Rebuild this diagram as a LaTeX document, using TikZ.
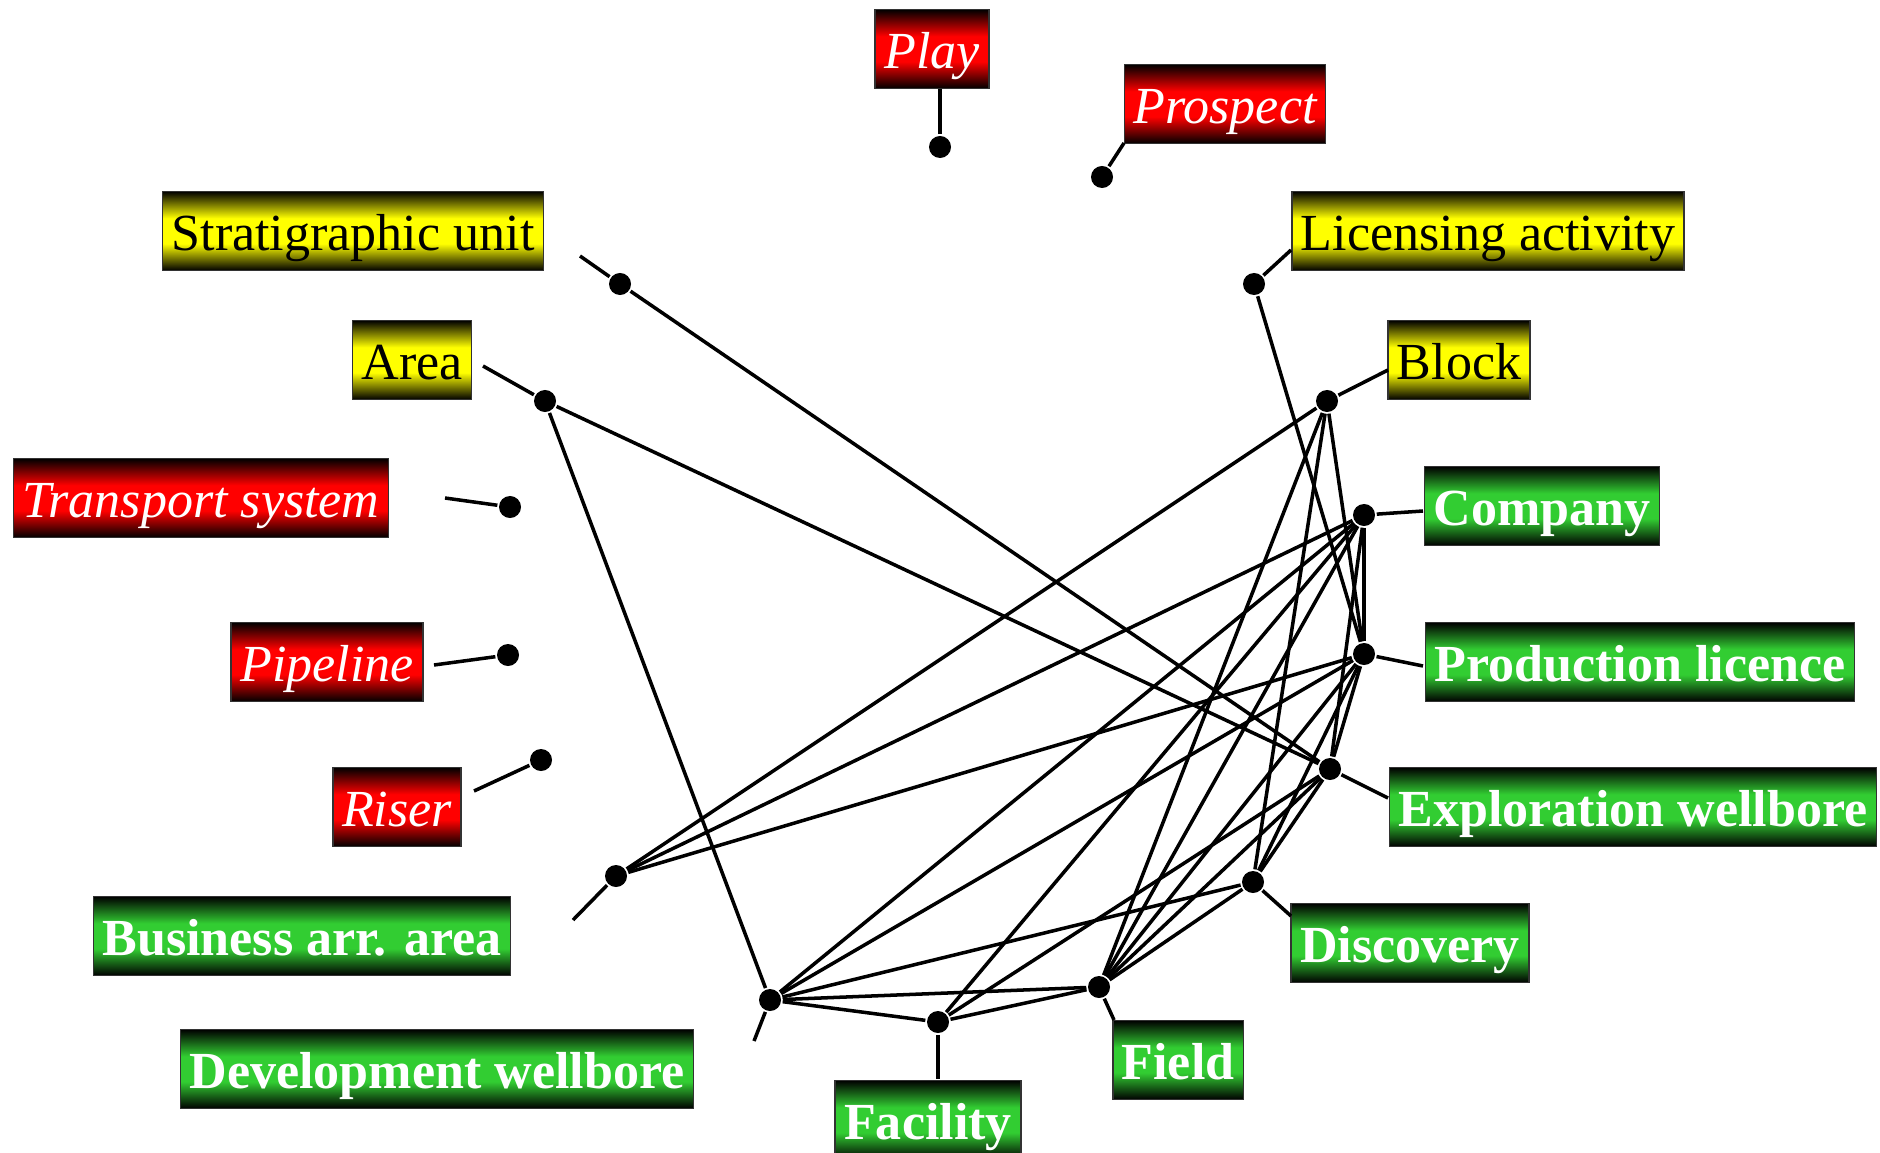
\documentclass[tikz,border=0pt]{standalone}
\usepackage{fontspec}
\setmainfont{Liberation Serif}
\definecolor{lgreen}{RGB}{50,205,50}
\pgfdeclareverticalshading{redshade}{100bp}{color(0bp)=(black); color(25bp)=(black); color(42bp)=(red); color(58bp)=(red); color(75bp)=(black); color(100bp)=(black)}
\pgfdeclareverticalshading{yellowshade}{100bp}{color(0bp)=(black); color(25bp)=(black); color(42bp)=(yellow); color(58bp)=(yellow); color(75bp)=(black); color(100bp)=(black)}
\pgfdeclareverticalshading{greenshade}{100bp}{color(0bp)=(black); color(25bp)=(black); color(42bp)=(lgreen); color(58bp)=(lgreen); color(75bp)=(black); color(100bp)=(black)}
\begin{document}
\begin{tikzpicture}
    [x=0.01cm,y=-0.01cm,line width=1pt,
     dot/.style={circle,fill=black,inner sep=0pt,minimum size=0.22cm},
     box/.style={draw=black!80,line width=0.5pt,inner xsep=0.09cm,inner ysep=0pt,minimum height=0.79cm,text height=0.40cm,text depth=0.02cm},
     redbox/.style={box,shading=redshade,text=white,font=\fontsize{14.8pt}{17pt}\selectfont\itshape},
     yellowbox/.style={box,shading=yellowshade,text=black,font=\fontsize{14.8pt}{17pt}\selectfont},
     greenbox/.style={box,shading=greenshade,text=white,font=\fontsize{14.8pt}{17pt}\selectfont\bfseries}]

    \useasboundingbox (0,0) rectangle (1880,1152);

    % labels:
    \node (play) at (932, 49) [redbox] {Play};
    \node (prospect) at (1225, 104) [redbox] {Prospect};
    \node (lic) at (1488, 231) [yellowbox] {Licensing activity};
    \node (block) at (1459, 360) [yellowbox] {Block};
    \node (comp) at (1542, 506) [greenbox] {Company};
    \node (plic) at (1640, 662) [greenbox] {Production licence};
    \node (ewell) at (1633, 807) [greenbox] {Exploration wellbore};
    \node (disc) at (1410, 943) [greenbox] {Discovery};
    \node (field) at (1178, 1060) [greenbox] {Field};
    \node (fac) at (928, 1120) [greenbox] {Facility};
    \node (dwell) at (437, 1069) [greenbox] {Development wellbore};
    \node (baa) at (302, 936) [greenbox] {Business arr. area};
    \node (riser) at (397, 807) [redbox] {Riser};
    \node (pipe) at (327, 662) [redbox] {Pipeline};
    \node (trans) at (201, 498) [redbox] {Transport system};
    \node (area) at (412, 360) [yellowbox] {Area};
    \node (strat) at (353, 231) [yellowbox] {Stratigraphic unit};

    % dots on the ring:
    \node (dplay) at (940, 147) [dot] {};
    \node (dprospect) at (1102, 177) [dot] {};
    \node (dlic) at (1254, 284) [dot] {};
    \node (dblock) at (1327, 401) [dot] {};
    \node (dcomp) at (1364, 515) [dot] {};
    \node (dplic) at (1364, 654) [dot] {};
    \node (dewell) at (1330, 769) [dot] {};
    \node (ddisc) at (1253, 882) [dot] {};
    \node (dfield) at (1099, 987) [dot] {};
    \node (dfac) at (938, 1022) [dot] {};
    \node (ddwell) at (770, 1000) [dot] {};
    \node (dbaa) at (616, 876) [dot] {};
    \node (driser) at (541, 760) [dot] {};
    \node (dpipe) at (508, 655) [dot] {};
    \node (dtrans) at (510, 507) [dot] {};
    \node (darea) at (545, 401) [dot] {};
    \node (dstrat) at (620, 284) [dot] {};

    % stub ends:
    \coordinate (splay) at (940, 89);
    \coordinate (sprospect) at (1124, 143);
    \coordinate (slic) at (1291, 250);
    \coordinate (sblock) at (1388, 370);
    \coordinate (scomp) at (1423, 511);
    \coordinate (splic) at (1423, 666);
    \coordinate (sewell) at (1388, 798);
    \coordinate (sdisc) at (1291, 916);
    \coordinate (sfield) at (1114, 1020);
    \coordinate (sfac) at (938, 1079);
    \coordinate (sdwell) at (754, 1041);
    \coordinate (sbaa) at (573, 920);
    \coordinate (sriser) at (474, 791);
    \coordinate (spipe) at (434, 665);
    \coordinate (strans) at (445, 498);
    \coordinate (sarea) at (483, 366);
    \coordinate (sstrat) at (580, 256);

    % stubs:
    \draw (dplay) to (splay);
    \draw (dprospect) to (sprospect);
    \draw (dlic) to (slic);
    \draw (dblock) to (sblock);
    \draw (dcomp) to (scomp);
    \draw (dplic) to (splic);
    \draw (dewell) to (sewell);
    \draw (ddisc) to (sdisc);
    \draw (dfield) to (sfield);
    \draw (dfac) to (sfac);
    \draw (ddwell) to (sdwell);
    \draw (dbaa) to (sbaa);
    \draw (driser) to (sriser);
    \draw (dpipe) to (spipe);
    \draw (dtrans) to (strans);
    \draw (darea) to (sarea);
    \draw (dstrat) to (sstrat);

    % connect dots:
    \draw (dstrat) to (dewell);
    \draw (darea) to (dewell);
    \draw (darea) to (ddwell);
    \draw (dlic) to (dplic);

    \draw (dblock) to (dbaa);
    \draw (dblock) to (dfield);
    \draw (dblock) to (ddisc);
    \draw (dblock) to (dplic);

    \draw (dcomp) to (dbaa);
    \draw (dcomp) to (ddwell);
    \draw (dcomp) to (dfac);
    \draw (dcomp) to (dfield);
    \draw (dcomp) to (dplic);
    \draw (dcomp) to (dewell);

    \draw (dplic) to (dbaa);
    \draw (dplic) to (ddwell);
    \draw (dplic) to (dfield);
    \draw (dplic) to (ddisc);
    \draw (dplic) to (dewell);

    \draw (dewell) to (dfield);
    \draw (dewell) to (dfac);
    \draw (dewell) to (ddisc);

    \draw (ddisc) to (ddwell);
    \draw (ddisc) to (dfield);
    \draw (dfield) to (ddwell);
    \draw (dfield) to (dfac);
    \draw (dfac) to (ddwell);

  \end{tikzpicture}
\end{document}
